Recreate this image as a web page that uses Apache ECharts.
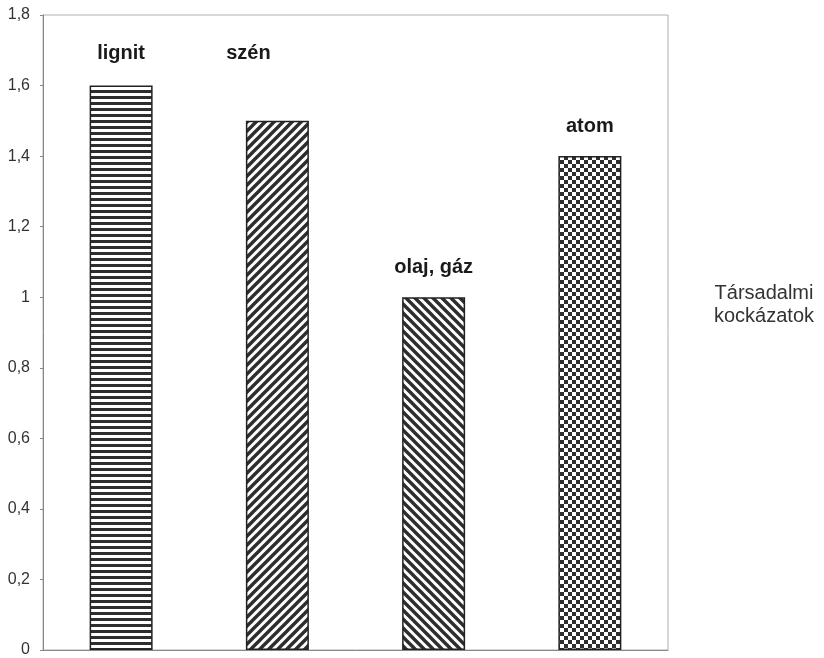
<!DOCTYPE html>
<html>
<head>
<meta charset="utf-8">
<script src="https://cdn.jsdelivr.net/npm/echarts@6/dist/echarts.min.js"></script>
<style>
  html, body { margin: 0; padding: 0; background: #fff; }
  #chart { width: 824px; height: 658px; }
</style>
</head>
<body>
<div id="chart"></div>
<script>
// Energy sources and their societal risk values
const categories = ['lignit', 'szén', 'olaj, gáz', 'atom'];
const riskValues = [1.6, 1.5, 1.0, 1.4];
const sideTitleLines = ['Társadalmi', 'kockázatok'];

// Fill patterns drawn on small tiles
function makeTile(size, draw) {
  const c = document.createElement('canvas');
  c.width = size; c.height = size;
  const ctx = c.getContext('2d');
  ctx.fillStyle = '#fff';
  ctx.fillRect(0, 0, size, size);
  ctx.fillStyle = '#2e2e2e';
  ctx.strokeStyle = '#2e2e2e';
  draw(ctx, size);
  return c;
}
// 45-degree stripes that tile seamlessly: one line per k in -1..1
function diagonal(ctx, s, rising) {
  ctx.lineWidth = 3.4;
  ctx.beginPath();
  for (let k = -1; k <= 1; k++) {
    if (rising) {
      // y = -x + s + k*s
      ctx.moveTo(-s, 2 * s + k * s);
      ctx.lineTo(2 * s, -s + k * s);
    } else {
      // y = x + k*s
      ctx.moveTo(-s, -s + k * s);
      ctx.lineTo(2 * s, 2 * s + k * s);
    }
  }
  ctx.stroke();
}
const horizontalTile = makeTile(6, (ctx) => { ctx.fillRect(0, 0, 6, 3); });
const forwardDiagTile = makeTile(9, (ctx, s) => diagonal(ctx, s, true));
const backDiagTile = makeTile(9, (ctx, s) => diagonal(ctx, s, false));
const checkerTile = makeTile(8, (ctx) => {
  ctx.fillRect(0, 0, 4, 4);
  ctx.fillRect(4, 4, 4, 4);
});
const fills = [horizontalTile, forwardDiagTile, backDiagTile, checkerTile];
// label nudges per bar
const labelNudge = [[0, -2], [-29, -37], [0, 0], [0, 0]];

const chart = echarts.init(document.getElementById('chart'), null, { renderer: 'canvas' });

const option = {
  backgroundColor: '#fff',
  animation: false,
  grid: {
    left: 43, right: 156, top: 15, bottom: 7,
    show: true, borderColor: '#b0b0b0', borderWidth: 1
  },
  xAxis: {
    type: 'category',
    data: categories,
    axisLine: { lineStyle: { color: '#888', width: 1 } },
    axisTick: { show: false },
    axisLabel: { show: false },
    splitLine: { show: false }
  },
  yAxis: {
    type: 'value',
    min: 0, max: 1.8, interval: 0.2,
    axisLine: { show: true, lineStyle: { color: '#888', width: 1 } },
    axisTick: { show: true, length: 3, lineStyle: { color: '#888' } },
    splitLine: { show: false },
    axisLabel: {
      color: '#333',
      fontFamily: 'Liberation Sans, Arial, sans-serif',
      fontSize: 16,
      margin: 13,
      formatter: (v) => String(Math.round(v * 10) / 10).replace('.', ',')
    }
  },
  series: [{
    type: 'bar',
    barWidth: 63,
    data: riskValues.map((v, i) => ({
      value: v,
      itemStyle: {
        color: { image: fills[i], repeat: 'repeat' },
        borderColor: '#222',
        borderWidth: 1.5
      },
      label: { offset: labelNudge[i] }
    })),
    label: {
      show: true,
      position: 'top',
      distance: 20,
      formatter: (p) => categories[p.dataIndex],
      color: '#1a1a1a',
      fontFamily: 'Liberation Sans, Arial, sans-serif',
      fontWeight: 'bold',
      fontSize: 20
    }
  }],
  graphic: sideTitleLines.map((line, i) => ({
    type: 'text',
    x: 764,
    y: 293 + i * 23,
    style: {
      text: line,
      fill: '#333',
      font: '20px "Liberation Sans", Arial, sans-serif',
      align: 'center',
      verticalAlign: 'middle'
    }
  }))
};
chart.setOption(option);
</script>
</body>
</html>
